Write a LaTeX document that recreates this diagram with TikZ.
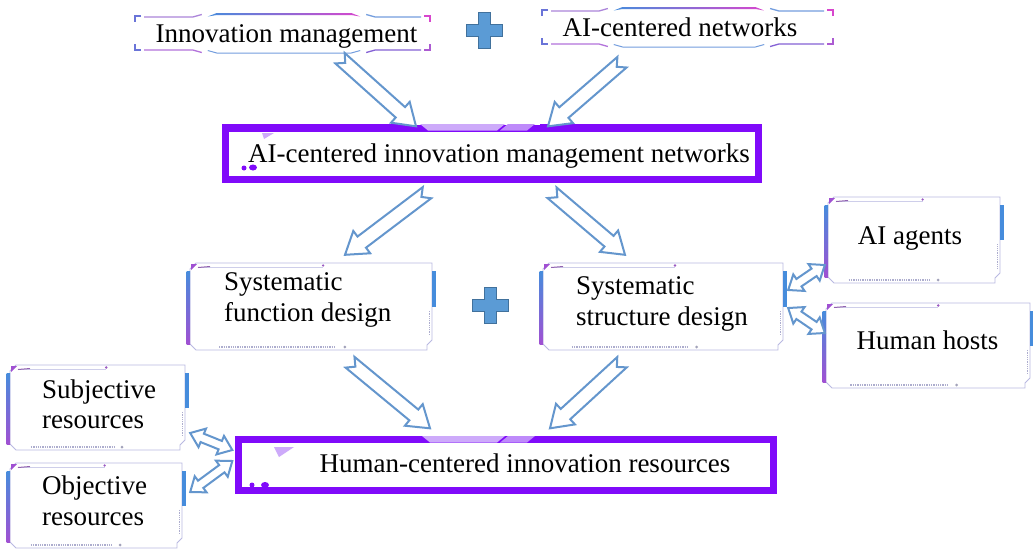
\documentclass[tikz,border=0pt]{standalone}
\usepackage{fontspec}
\setmainfont{Liberation Serif}
\usetikzlibrary{calc,fit}
\definecolor{arrowblue}{RGB}{100,150,205}
\definecolor{plusfill}{RGB}{91,155,213}
\definecolor{plusdraw}{RGB}{65,113,156}
\definecolor{boxpurple}{RGB}{128,10,250}
\definecolor{lightpurple}{RGB}{205,170,250}
\definecolor{framelav}{RGB}{185,185,225}
\definecolor{barblue}{RGB}{70,140,220}
\definecolor{barpurple}{RGB}{160,80,210}
\definecolor{decomag}{RGB}{215,70,205}

\tikzset{
  txt/.style={font=\fontsize{27}{31}\selectfont, inner sep=0pt, text=black},
  boxnode/.style={inner sep=0pt, draw=none},
  blk/.style={draw=arrowblue, line width=2pt, fill=white, line join=miter},
  frameline/.style={draw=framelav, line width=0.9pt},
  purpleframe/.style={draw=boxpurple, line width=6.5pt, fill=white},
  plusstyle/.style={fill=plusfill, draw=plusdraw, line width=1pt},
}

% fancy frame decoration: x1 y1 x2 y2
\newcommand\fancyframe[4]{%
  \draw[frameline,fill=white] ({#1+6},#2) -- (#3,#2) -- (#3,{#4-10}) -- ({#3-5},{#4-5}) -- ({#3-5},{#4}) --
      ({#1+6},#4) -- (#1,{#4-6}) -- (#1,{#2+6}) -- cycle;
  \draw[draw=framelav!70, line width=0.6pt] ({#1+8},{#2+4}) -- ({#1+0.55*(#3-#1)},{#2+4});
  \draw[draw=barpurple!60!gray, line width=1pt] ({#1+8},{#2+4.5}) -- ({#1+20},{#2+3.5});
  \fill[barpurple!80!gray] ({#1+0.55*(#3-#1)},{#2+2.5}) circle (1.3);
  \fill[barpurple] ({#1+1},{#2+1}) -- ({#1+7},{#2+1}) -- ({#1+1},{#2+7}) -- cycle;
  \shade[top color=barblue, bottom color=barpurple] ({#1-3.5},{#2+8}) rectangle ({#1},{#4-6});
  \fill[barblue] (#3,{#2+8}) rectangle ({#3+3.5},{#2+0.5*(#4-#2)});
  \draw[framelav!80!gray, densely dotted, line width=1.3pt] ({#1+0.12*(#3-#1)},{#4-3}) -- ({#1+0.6*(#3-#1)},{#4-3});
  \fill[framelav!60!gray] ({#1+0.64*(#3-#1)},{#4-3}) circle (1.5);
  \draw[framelav!80!gray, densely dotted, line width=0.8pt] ({#3-3},{#2+0.55*(#4-#2)}) -- ({#3-3},{#4-14});
}

% top-box decoration: x1 y1 x2 y2
\newcommand\topframe[4]{%
  \draw[barblue!60!barpurple, line width=1.2pt] ({#1+8},{#2+4}) -- ({#1+2},{#2+4}) -- ({#1+2},{#2+10});
  \draw[barblue!60!barpurple, line width=1.2pt] ({#1+2},{#4-10}) -- ({#1+2},{#4-4}) -- ({#1+8},{#4-4});
  \draw[decomag, line width=1.2pt] ({#3-8},{#2+4}) -- ({#3-2},{#2+4}) -- ({#3-2},{#2+10});
  \draw[decomag!70!barblue, line width=1.2pt] ({#3-2},{#4-10}) -- ({#3-2},{#4-4}) -- ({#3-8},{#4-4});
  \draw[barpurple!50!framelav, line width=1.3pt] ({#1+11},{#2+5}) -- ({#1+0.2*(#3-#1)},{#2+5}) -- ({#1+0.23*(#3-#1)},{#2+2.5});
  \shade[left color=barblue, right color=decomag]
      ({#1+0.25*(#3-#1)},{#2+4.5}) -- ({#1+0.28*(#3-#1)},{#2+1}) -- ({#1+0.73*(#3-#1)},{#2+1}) --
      ({#1+0.76*(#3-#1)},{#2+4.5}) -- ({#1+0.73*(#3-#1)},{#2+3}) -- ({#1+0.28*(#3-#1)},{#2+3}) -- cycle;
  \draw[barblue!60!framelav, line width=1.3pt] ({#1+0.78*(#3-#1)},{#2+2.5}) -- ({#1+0.81*(#3-#1)},{#2+5}) -- ({#3-11},{#2+5});
  \draw[barpurple!80, line width=1.3pt] ({#1+11},{#4-4}) -- ({#1+0.2*(#3-#1)},{#4-4}) -- ({#1+0.23*(#3-#1)},{#4-1.5});
  \draw[barblue!60!framelav, line width=1pt] ({#1+0.25*(#3-#1)},{#4-3.5}) -- ({#1+0.28*(#3-#1)},{#4-1}) -- ({#1+0.73*(#3-#1)},{#4-1}) -- ({#1+0.76*(#3-#1)},{#4-3.5});
  \draw[barpurple!70!barblue, line width=1.3pt] ({#1+0.78*(#3-#1)},{#4-1.5}) -- ({#1+0.81*(#3-#1)},{#4-4}) -- ({#3-11},{#4-4});
}

% plus sign: name x y
\newcommand\plussign[3]{%
  \node[boxnode, minimum size=36pt] (#1) at (#2,#3) {};
  \draw[plusstyle] ({#2-6},{#3-18}) -- ({#2+6},{#3-18}) -- ({#2+6},{#3-6}) -- ({#2+18},{#3-6}) --
    ({#2+18},{#3+6}) -- ({#2+6},{#3+6}) -- ({#2+6},{#3+18}) -- ({#2-6},{#3+18}) -- ({#2-6},{#3+6}) --
    ({#2-18},{#3+6}) -- ({#2-18},{#3-6}) -- ({#2-6},{#3-6}) -- cycle;
}

% hollow block arrow with notched tail: tail, head
\newcommand\blkarrow[2]{%
  \draw[blk] ($(#1)!7pt!90:(#2)$)
    -- ($($(#2)!21pt!(#1)$)!7pt!-90:(#1)$)
    -- ($($(#2)!21pt!(#1)$)!14pt!-90:(#1)$)
    -- (#2)
    -- ($($(#2)!21pt!(#1)$)!14pt!90:(#1)$)
    -- ($($(#2)!21pt!(#1)$)!7pt!90:(#1)$)
    -- ($(#1)!7pt!-90:(#2)$)
    -- ($(#1)!7pt!(#2)$)
    -- cycle;
}
% double-headed hollow arrow
\newcommand\dblarrow[2]{%
  \draw[blk] (#1)
    -- ($($(#1)!13pt!(#2)$)!10pt!90:(#2)$)
    -- ($($(#1)!13pt!(#2)$)!4.5pt!90:(#2)$)
    -- ($($(#2)!13pt!(#1)$)!4.5pt!-90:(#1)$)
    -- ($($(#2)!13pt!(#1)$)!10pt!-90:(#1)$)
    -- (#2)
    -- ($($(#2)!13pt!(#1)$)!10pt!90:(#1)$)
    -- ($($(#2)!13pt!(#1)$)!4.5pt!90:(#1)$)
    -- ($($(#1)!13pt!(#2)$)!4.5pt!-90:(#2)$)
    -- ($($(#1)!13pt!(#2)$)!10pt!-90:(#2)$)
    -- cycle;
}

\begin{document}
\begin{tikzpicture}[x=1pt,y=-1pt]
\useasboundingbox[fill=white] (0,0) rectangle (1033,550);

% ---------- top boxes ----------
\node[boxnode, fit={(133,12) (432,54)}] (im) {};
\topframe{133}{12}{432}{54}
\node[txt, anchor=base] (imt) at (286.5,42) {Innovation management};

\node[boxnode, fit={(540,6) (835,48)}] (an) {};
\topframe{540}{6}{835}{48}
\node[txt, anchor=base] (ant) at (680,36) {AI-centered networks};

\plussign{plus1}{484}{30}

% ---------- main box 1 ----------
\node[boxnode, fit={(225.5,128.5) (758.5,179.5)}] (m1) {};
\draw[purpleframe] (m1.north west) rectangle (m1.south east);
\fill[boxpurple] (222,124) rectangle (400,131);
\fill[boxpurple] (540,124) rectangle (762,130);
\fill[lightpurple] (420,124) -- (505,124) -- (497,130.5) -- (428,130.5) -- cycle;
\fill[lightpurple!80!boxpurple] (508,124) -- (535,124) -- (527,130.5) -- (500,130.5) -- cycle;
\fill[lightpurple] (262,133) -- (274,133) -- (264,139) -- cycle;
\fill[boxpurple] (244,168) circle (2.5);
\fill[boxpurple] (253,167.5) ellipse (4 and 3);
\node[txt, anchor=base] (m1t) at (499,162) {AI-centered innovation management networks};

% ---------- middle fancy boxes ----------
\node[boxnode, fit={(190,263) (432,350)}] (fd) {};
\fancyframe{190}{263}{432}{350}
\node[txt, anchor=base west] (fd1) at (224,290) {Systematic};
\node[txt, anchor=base west] (fd2) at (224,321) {function design};

\node[boxnode, fit={(543,263) (783,350)}] (sd) {};
\fancyframe{543}{263}{783}{350}
\node[txt, anchor=base west] (sd1) at (576,294) {Systematic};
\node[txt, anchor=base west] (sd2) at (576,325) {structure design};

\plussign{plus2}{490}{305}

\node[boxnode, fit={(828,197) (1000,283)}] (ag) {};
\fancyframe{828}{197}{1000}{283}
\node[txt, anchor=base] (agt) at (910,244) {AI agents};

\node[boxnode, fit={(826,303) (1030,388)}] (hh) {};
\fancyframe{826}{303}{1030}{388}
\node[txt, anchor=base] (hht) at (927.5,349) {Human hosts};

% ---------- bottom ----------
\node[boxnode, fit={(238.5,439.5) (773.5,490.5)}] (m2) {};
\draw[purpleframe] (m2.north west) rectangle (m2.south east);
\fill[boxpurple] (235,436) rectangle (410,443);
\fill[boxpurple] (545,436) rectangle (777,442);
\fill[lightpurple] (422,436) -- (505,436) -- (497,442.5) -- (430,442.5) -- cycle;
\fill[lightpurple!80!boxpurple] (508,436) -- (535,436) -- (527,442.5) -- (500,442.5) -- cycle;
\fill[lightpurple] (274,447) -- (294,447) -- (279,457) -- cycle;
\fill[boxpurple] (252,485) circle (2.5);
\fill[boxpurple] (265,485) ellipse (4 and 3);
\node[txt, anchor=base] (m2t) at (525,472) {Human-centered innovation resources};

\node[boxnode, fit={(10,365) (185,450)}] (sr) {};
\fancyframe{10}{365}{185}{450}
\node[txt, anchor=base west] (sr1) at (42,398) {Subjective};
\node[txt, anchor=base west] (sr2) at (42,428) {resources};

\node[boxnode, fit={(10,463) (182,548)}] (orr) {};
\fancyframe{10}{463}{182}{548}
\node[txt, anchor=base west] (or1) at (42,494) {Objective};
\node[txt, anchor=base west] (or2) at (42,525) {resources};

% ---------- arrow end points ----------
\coordinate (a1t) at ([shift={(57.5,4)}]im.south);
\coordinate (a1h) at ([shift={(-76,-2)}]m1.north);
\coordinate (a2t) at ([shift={(-65.5,14)}]an.south);
\coordinate (a2h) at ([shift={(56,-2)}]m1.north);
\coordinate (a3t) at ([shift={(-65,13)}]m1.south);
\coordinate (a3h) at ([shift={(34,-8)}]fd.north);
\coordinate (a4t) at ([shift={(60,13)}]m1.south);
\coordinate (a4h) at ([shift={(-38,-8)}]sd.north);
\coordinate (a5t) at ([shift={(39,12)}]fd.south);
\coordinate (a5h) at ([shift={(-76,-11)}]m2.north);
\coordinate (a6t) at ([shift={(-41,12)}]sd.south);
\coordinate (a6h) at ([shift={(44,-11)}]m2.north);
\coordinate (d1a) at ([shift={(5,-16.5)}]sd.east);
\coordinate (d1b) at ([shift={(-3,25)}]ag.west);
\coordinate (d2a) at ([shift={(5,1.5)}]sd.east);
\coordinate (d2b) at ([shift={(-1,-12.5)}]hh.west);
\coordinate (d3a) at ([shift={(-6,-15)}]m2.west);
\coordinate (d3b) at ([shift={(5,25.5)}]sr.east);
\coordinate (d4a) at ([shift={(-6,-4)}]m2.west);
\coordinate (d4b) at ([shift={(8,-13.5)}]orr.east);

\blkarrow{a1t}{a1h}
\blkarrow{a2t}{a2h}
\blkarrow{a3t}{a3h}
\blkarrow{a4t}{a4h}
\blkarrow{a5t}{a5h}
\blkarrow{a6t}{a6h}
\dblarrow{d1a}{d1b}
\dblarrow{d2a}{d2b}
\dblarrow{d3a}{d3b}
\dblarrow{d4a}{d4b}
\end{tikzpicture}
\end{document}
